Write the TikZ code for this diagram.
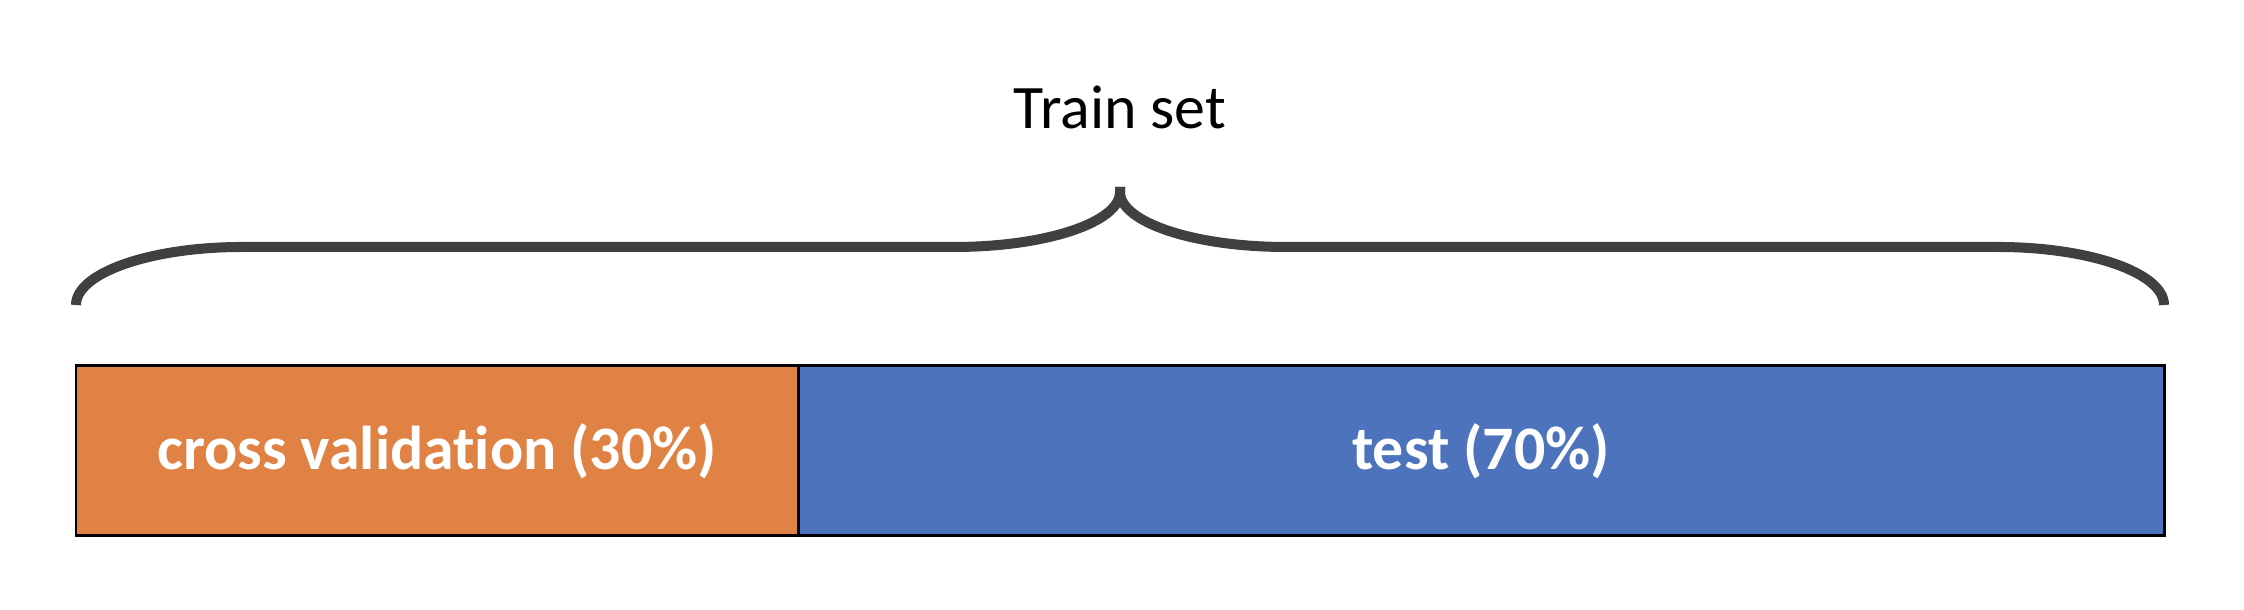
\documentclass[tikz,border=0pt]{standalone}
\usepackage{fontspec}
\setmainfont{Carlito}[Ligatures={NoCommon,NoRare}]
\usetikzlibrary{positioning}

\definecolor{cvorange}{HTML}{E08244}
\definecolor{testblue}{HTML}{4C73BC}
\definecolor{bracegray}{HTML}{404040}

\tikzset{
    part/.style={draw=black, line width=0.85pt, minimum height=1.70cm,
                 inner sep=0pt, outer sep=0pt, text=white,
                 font=\bfseries\fontsize{17.6}{21}\selectfont},
    curly/.style={draw=bracegray, line width=2.85pt},
}

\begin{document}
\begin{tikzpicture}
    \useasboundingbox (0,0) rectangle (22.44,6.10);

    \node[part, fill=cvorange, minimum width=7.22cm, anchor=north west] (cv) at (0.76,2.44) {cross validation (30\%)};
    \node[part, fill=testblue, minimum width=13.66cm, right=0pt of cv] (test) {test (70\%)};

    \coordinate (tip) at (11.20,4.23);
    \node[font=\fontsize{17.6}{21}\selectfont] (title) at (11.20,5.03) {Train set};

    \draw[curly] ([yshift=0.61cm]cv.north west)
        arc[start angle=180, end angle=90, x radius=1.66cm, y radius=0.58cm]
        -- ++(7.12,0)
        arc[start angle=270, end angle=360, x radius=1.66cm, y radius=0.55cm]
        -- (tip);
    \draw[curly] ([yshift=0.61cm]test.north east)
        arc[start angle=0, end angle=90, x radius=1.66cm, y radius=0.58cm]
        -- ++(-7.12,0)
        arc[start angle=270, end angle=180, x radius=1.66cm, y radius=0.55cm]
        -- (tip);
\end{tikzpicture}
\end{document}
